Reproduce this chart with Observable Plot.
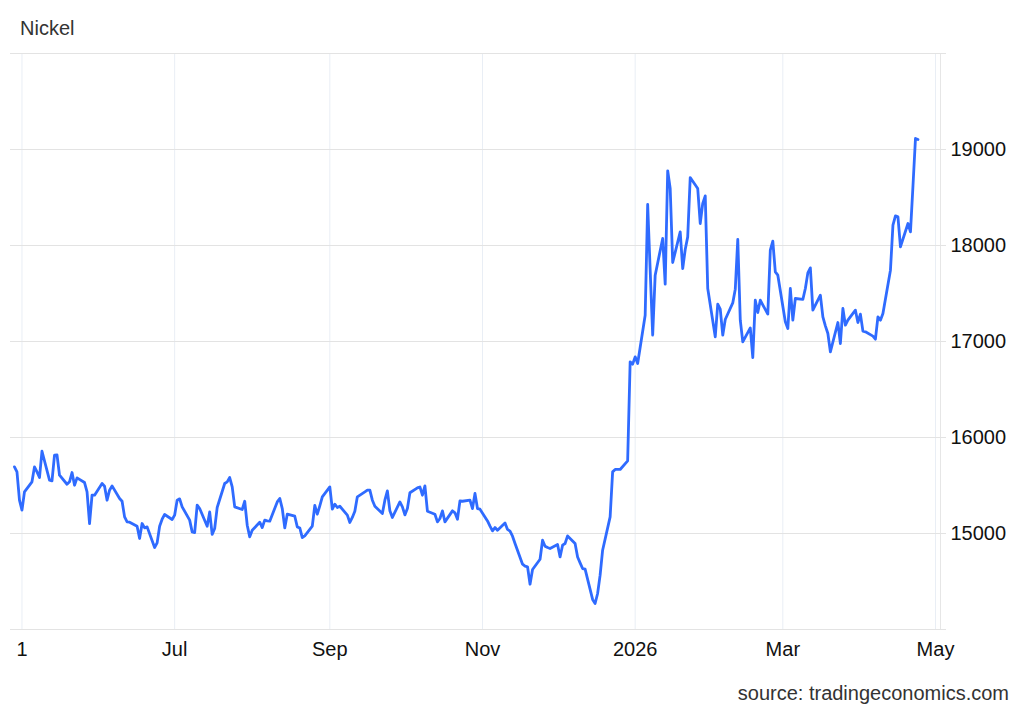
<!DOCTYPE html>
<html><head><meta charset="utf-8">
<script src="https://cdn.jsdelivr.net/npm/d3@7"></script>
<script src="https://cdn.jsdelivr.net/npm/@observablehq/plot@0.6"></script>
<style>
body{margin:0;background:#fff;font-family:"Liberation Sans",Arial,sans-serif;}
#wrap{position:relative;width:1024px;height:710px;overflow:hidden;}
#chart{position:absolute;left:0;top:0;}
#title{position:absolute;left:20px;top:18px;font-size:20px;line-height:20px;color:#333;}
#source{position:absolute;right:15px;top:683px;font-size:20px;line-height:20px;color:#333;}
</style></head><body>
<div id="wrap"><div id="chart"></div><div id="title">Nickel</div><div id="source">source: tradingeconomics.com</div></div>
<script>
// first trading day shown; one value per trading day (Mon–Fri)
const startDate = "2025-04-28";
const prices = [
15694,15642,15347,15243,15433,15538,15694,15642,15583,15857,
15555,15548,15816,15819,15607,15513,15538,15635,15503,15579,
15531,15433,15104,15399,15399,15521,15493,15347,15451,15496,
15365,15336,15173,15121,15118,15076,14948,15104,15058,15069,
14854,14902,15076,15149,15198,15146,15191,15347,15361,15278,
15139,15017,15010,15295,15260,15076,15225,14990,15052,15271,
15521,15538,15583,15485,15278,15250,15336,15086,14965,15034,
15118,15062,15139,15131,15128,15329,15365,15260,15058,15201,
15180,15069,15058,14958,14975,15076,15292,15201,15288,15382,
15485,15253,15305,15271,15284,15191,15115,15167,15232,15382,
15433,15451,15451,15347,15284,15208,15347,15444,15236,15167,
15329,15278,15194,15260,15424,15475,15485,15399,15496,15232,
15201,15121,15156,15236,15121,15236,15215,15149,15340,15336,
15347,15260,15417,15260,15253,15131,15076,15027,15062,15034,
15110,15042,15024,14972,14896,14680,14660,14653,14472,14625,
14732,14930,14868,14854,14844,14885,14756,14878,14896,14975,
14896,14756,14694,14635,14628,14313,14271,14375,14566,14826,
15173,15642,15667,15667,15667,15757,16788,16764,16840,16771,
17274,18427,17743,17066,17691,18073,17597,18778,18594,17823,
18142,17760,17958,18090,18708,18594,18229,18437,18517,17552,
17048,17389,17337,17066,17229,17402,17545,18063,17222,16996,
17142,16833,17430,17302,17430,17285,17951,18045,17725,17691,
17205,17135,17552,17222,17448,17438,17552,17715,17767,17326,
17483,17257,17163,17083,16892,17198,16979,17344,17170,17222,
17326,17198,17285,17108,17101,17056,17024,17257,17222,17292,
17743,18212,18309,18299,17986,18229,18142,18620,19115,19104
];
const tickDates = ["2025-05-01","2025-07-01","2025-09-01","2025-11-01","2026-01-01","2026-03-01","2026-05-01"];
const tickLabels = ["1","Jul","Sep","Nov","2026","Mar","May"];
const yTicks = [15000,16000,17000,18000,19000];
const yGrid = [14000,15000,16000,17000,18000,19000,20000];

const tradingDays = d3.utcDays(new Date(startDate + "T00:00Z"), new Date("2026-06-01T00:00Z"))
  .filter(d => d.getUTCDay() !== 0 && d.getUTCDay() !== 6)
  .slice(0, prices.length);
const data = prices.map((v, i) => ({date: tradingDays[i], value: v}));
const ticks = tickDates.map(d => new Date(d + "T00:00Z"));
const labelOf = new Map(ticks.map((d, i) => [+d, tickLabels[i]]));
const xStart = new Date("2025-04-26T10:00Z"), xEnd = new Date("2026-05-03T00:00Z");

const chart = Plot.plot({
  width: 1024, height: 710,
  marginTop: 53, marginBottom: 81, marginLeft: 10, marginRight: 78,
  style: {fontFamily: "'Liberation Sans', Arial, sans-serif", fontSize: "20px", color: "#111", background: "transparent", overflow: "visible"},
  x: {type: "utc", domain: [xStart, xEnd], range: [10, 940]},
  y: {domain: [14000, 20000]},
  marks: [
    Plot.ruleX(ticks, {stroke: "#e9eef5", strokeWidth: 1}),
    Plot.ruleX([xEnd], {stroke: "#e6e6e6", strokeWidth: 1}),
    Plot.ruleY(yGrid, {stroke: "#e3e3e3", strokeWidth: 1}),
    Plot.axisX(ticks, {anchor: "bottom", tickSize: 0, tickPadding: 12, tickFormat: d => labelOf.get(+d), label: null}),
    Plot.axisY(yTicks, {anchor: "right", tickSize: 0, tickPadding: 4, tickFormat: d => String(d), label: null}),
    Plot.line(data, {x: "date", y: "value", stroke: "#2f6bff", strokeWidth: 2.8, strokeLinejoin: "round", strokeLinecap: "round"})
  ]
});
document.getElementById("chart").appendChild(chart);
</script>
</body></html>
